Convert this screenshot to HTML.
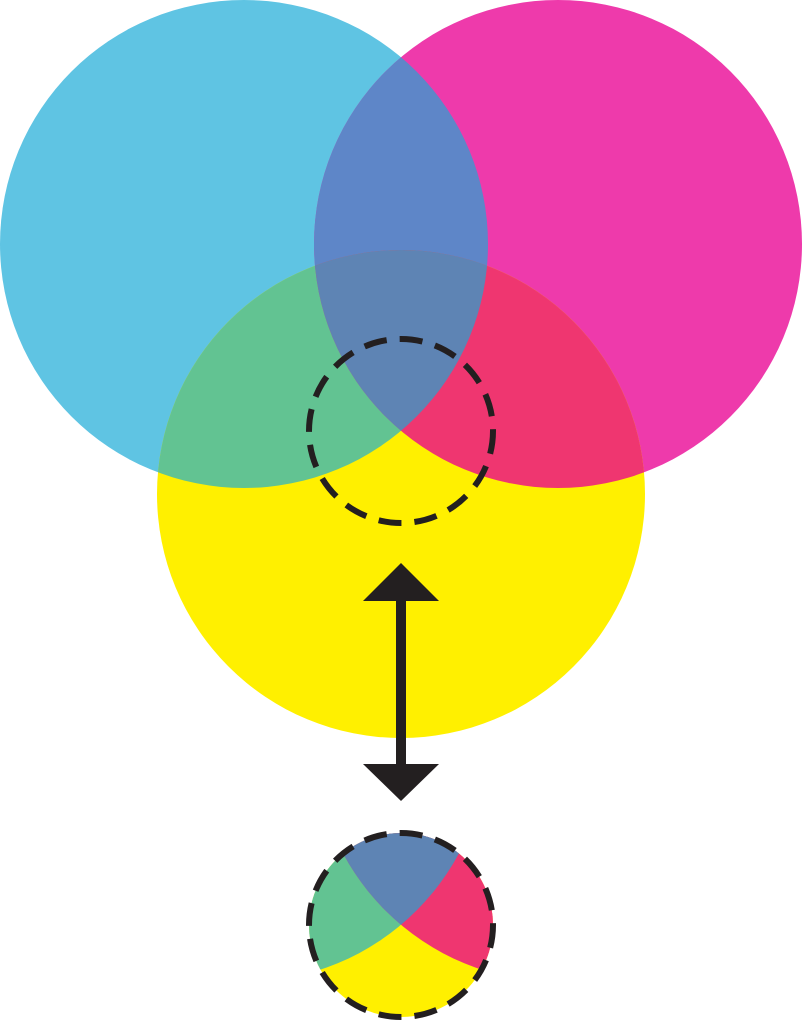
<!DOCTYPE html>
<html><head><meta charset="utf-8"><style>html,body{margin:0;padding:0;background:#fff;width:802px;height:1024px;overflow:hidden}svg{display:block}</style></head>
<body>
<svg width="802" height="1024" viewBox="0 0 802 1024" xmlns="http://www.w3.org/2000/svg">
<defs>
<clipPath id="cC"><circle cx="244" cy="244" r="244"/></clipPath>
<clipPath id="cM"><circle cx="558" cy="244" r="244"/></clipPath>
<clipPath id="cS"><circle cx="401" cy="431" r="92"/></clipPath>
<g id="art">
<circle cx="244" cy="244" r="244" fill="#5FC4E3"/>
<circle cx="558" cy="244" r="244" fill="#EE3AAB"/>
<circle cx="401" cy="494" r="244" fill="#FFF000"/>
<g clip-path="url(#cC)"><circle cx="558" cy="244" r="244" fill="#5E86C8"/><circle cx="401" cy="494" r="244" fill="#62C392"/></g>
<g clip-path="url(#cM)"><circle cx="401" cy="494" r="244" fill="#EF3670"/></g>
<g clip-path="url(#cC)"><g clip-path="url(#cM)"><circle cx="401" cy="494" r="244" fill="#5E84B4"/></g></g>
</g>
</defs>
<use href="#art"/>
<circle cx="401" cy="431" r="92" fill="none" stroke="#231F20" stroke-width="6" stroke-dasharray="23 13"/>
<g transform="translate(0,494)">
<g clip-path="url(#cS)"><use href="#art"/></g>
<circle cx="401" cy="431" r="92" fill="none" stroke="#231F20" stroke-width="6" stroke-dasharray="23 13"/>
</g>
<line x1="401" y1="598" x2="401" y2="766" stroke="#231F20" stroke-width="10"/>
<polygon points="401,563 439,601 363,601" fill="#231F20"/>
<polygon points="401,801 439,764 363,764" fill="#231F20"/>
</svg>
</body></html>
